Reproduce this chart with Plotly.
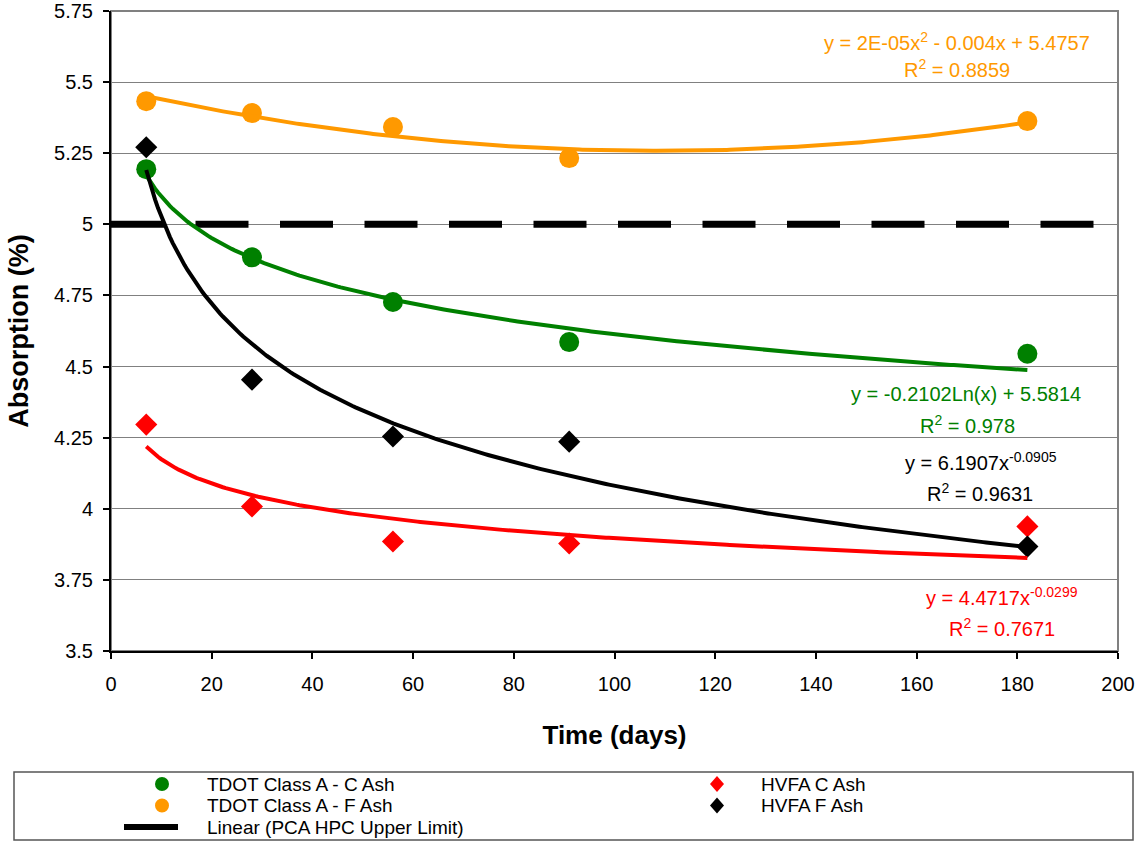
import numpy as np
import plotly.graph_objects as go

# ---------------- data ----------------
days = [7, 28, 56, 91, 182]
tdot_c_ash = [5.194, 4.884, 4.727, 4.586, 4.545]
tdot_f_ash = [5.433, 5.391, 5.342, 5.233, 5.363]
hvfa_c_ash = [4.296, 4.008, 3.885, 3.878, 3.938]
hvfa_f_ash = [5.271, 4.454, 4.254, 4.236, 3.867]

limit_x = [0, 200]
limit_value = 5.0

# trendline coefficients as printed on the chart
c_ash_log = (-0.2102, 5.5814)      # y = a ln(x) + b
hvfa_f_power = (6.1907, -0.0905)   # y = a x^b
hvfa_c_power = (4.4717, -0.0299)   # y = a x^b

y_tick_vals = [3.5, 3.75, 4.0, 4.25, 4.5, 4.75, 5.0, 5.25, 5.5, 5.75]
y_tick_text = ["3.5", "3.75", "4", "4.25", "4.5", "4.75", "5", "5.25", "5.5", "5.75"]
x_tick_vals = [0, 20, 40, 60, 80, 100, 120, 140, 160, 180, 200]

names = ["TDOT Class A - C Ash", "TDOT Class A - F Ash", "Linear (PCA HPC Upper Limit)",
         "HVFA C Ash", "HVFA F Ash"]

GREEN = "#008000"
ORANGE = "#FF9900"
RED = "#FF0000"
BLACK = "#000000"

# ---------------- trendlines ----------------
xt = np.linspace(min(days), max(days), 300)
quad = np.polyfit(days, tdot_f_ash, 2)
y_orange = np.polyval(quad, xt)
y_green = c_ash_log[0] * np.log(xt) + c_ash_log[1]
y_black = hvfa_f_power[0] * xt ** hvfa_f_power[1]
y_red = hvfa_c_power[0] * xt ** hvfa_c_power[1]

FONT = "Liberation Sans, Arial, sans-serif"

fig = go.Figure()

fig.add_trace(go.Scatter(x=limit_x, y=[limit_value] * len(limit_x), mode="lines",
                         line=dict(color=BLACK, width=7, dash="53px,31.5px"),
                         name=names[2], showlegend=False))

fig.add_trace(go.Scatter(x=days, y=tdot_c_ash, mode="markers", name=names[0],
                         marker=dict(symbol="circle", size=20, color=GREEN), showlegend=False))
fig.add_trace(go.Scatter(x=days, y=tdot_f_ash, mode="markers", name=names[1],
                         marker=dict(symbol="circle", size=20, color=ORANGE), showlegend=False))
fig.add_trace(go.Scatter(x=days, y=hvfa_c_ash, mode="markers", name=names[3],
                         marker=dict(symbol="diamond", size=17, color=RED), showlegend=False))
fig.add_trace(go.Scatter(x=days, y=hvfa_f_ash, mode="markers", name=names[4],
                         marker=dict(symbol="diamond", size=17, color=BLACK), showlegend=False))

for yy, col in [(y_green, GREEN), (y_orange, ORANGE), (y_red, RED), (y_black, BLACK)]:
    fig.add_trace(go.Scatter(x=xt, y=yy, mode="lines", line=dict(color=col, width=4),
                             showlegend=False, hoverinfo="skip"))

# ---------------- pixel helpers ----------------
W, H = 1138, 842
L, R, T, B = 111, 1118, 11, 651


def px(x):
    return (x - L) / (R - L)


def py(y):
    return (B - y) / (B - T)


annotations = []


def text(x, y, s, color, size=20, anchor="center"):
    annotations.append(dict(x=px(x), y=py(y), xref="paper", yref="paper", text=s,
                            showarrow=False, xanchor=anchor, yanchor="middle",
                            font=dict(family=FONT, size=size, color=color)))


# equations
text(957, 41, "y = 2E-05x<sup>2</sup> - 0.004x + 5.4757", ORANGE)
text(957, 68, "R<sup>2</sup> = 0.8859", ORANGE)
text(966, 394, "y = -0.2102Ln(x) + 5.5814", GREEN)
text(967, 424, "R<sup>2</sup> = 0.978", GREEN)
text(981, 461, "y = 6.1907x<sup>-0.0905</sup>", BLACK)
text(980, 492, "R<sup>2</sup> = 0.9631", BLACK)
text(1002, 596, "y = 4.4717x<sup>-0.0299</sup>", RED)
text(1002, 627, "R<sup>2</sup> = 0.7671", RED)

shapes = []
# plot frame (gray top/right)
shapes.append(dict(type="rect", xref="paper", yref="paper", x0=0, x1=1, y0=0, y1=1,
                   line=dict(color="#808080", width=2), layer="below"))

# manual legend box
shapes.append(dict(type="rect", xref="paper", yref="paper", x0=px(14), x1=px(1133),
                   y0=py(772), y1=py(840), line=dict(color="#555555", width=1.5),
                   fillcolor="rgba(0,0,0,0)"))


def circle(x, y, col, r=7):
    shapes.append(dict(type="circle", xref="paper", yref="paper", xsizemode="pixel",
                       ysizemode="pixel", xanchor=px(x), yanchor=py(y),
                       x0=-r, x1=r, y0=-r, y1=r, fillcolor=col, line=dict(width=0)))


def diamond(x, y, col, w=7, h=8):
    shapes.append(dict(type="path", xref="paper", yref="paper", xsizemode="pixel",
                       ysizemode="pixel", xanchor=px(x), yanchor=py(y),
                       path=f"M 0 {h} L {w} 0 L 0 {-h} L {-w} 0 Z",
                       fillcolor=col, line=dict(width=0)))


rows = [784, 805.5, 827]
circle(162, rows[0], GREEN)
circle(162, rows[1], ORANGE)
shapes.append(dict(type="line", xref="paper", yref="paper", x0=px(124), x1=px(178),
                   y0=py(rows[2]), y1=py(rows[2]), line=dict(color=BLACK, width=6)))
diamond(717, rows[0], RED)
diamond(717, rows[1], BLACK)

text(205, rows[0], names[0], BLACK, 19, "left")
text(205, rows[1], names[1], BLACK, 19, "left")
text(205, rows[2], names[2], BLACK, 19, "left")
text(759, rows[0], names[3], BLACK, 19, "left")
text(759, rows[1], names[4], BLACK, 19, "left")

fig.update_layout(
    width=W, height=H,
    margin=dict(l=L, r=W - R, t=T, b=H - B),
    paper_bgcolor="white", plot_bgcolor="white",
    font=dict(family=FONT, color=BLACK, size=19),
    showlegend=False,
    annotations=annotations,
    shapes=shapes,
    xaxis=dict(range=[0, 200], tickvals=x_tick_vals, ticks="outside", ticklen=6,
               tickcolor=BLACK, tickwidth=1.5, showline=True, linecolor=BLACK, linewidth=2,
               showgrid=False, zeroline=False, tickfont=dict(size=20), ticklabelstandoff=8,
               title=dict(text="<b>Time (days)</b>", font=dict(size=26), standoff=32),
               automargin=False),
    yaxis=dict(range=[3.5, 5.75], tickvals=y_tick_vals, ticktext=y_tick_text,
               ticks="outside", ticklen=6, tickcolor=BLACK, tickwidth=1.5, showline=True,
               linecolor=BLACK, linewidth=2, showgrid=True, gridcolor="#808080", gridwidth=1,
               zeroline=False, tickfont=dict(size=20), ticklabelstandoff=6,
               title=dict(text="<b>Absorption (%)</b>", font=dict(size=27), standoff=18),
               automargin=False),
)

fig.write_html("out.html")
